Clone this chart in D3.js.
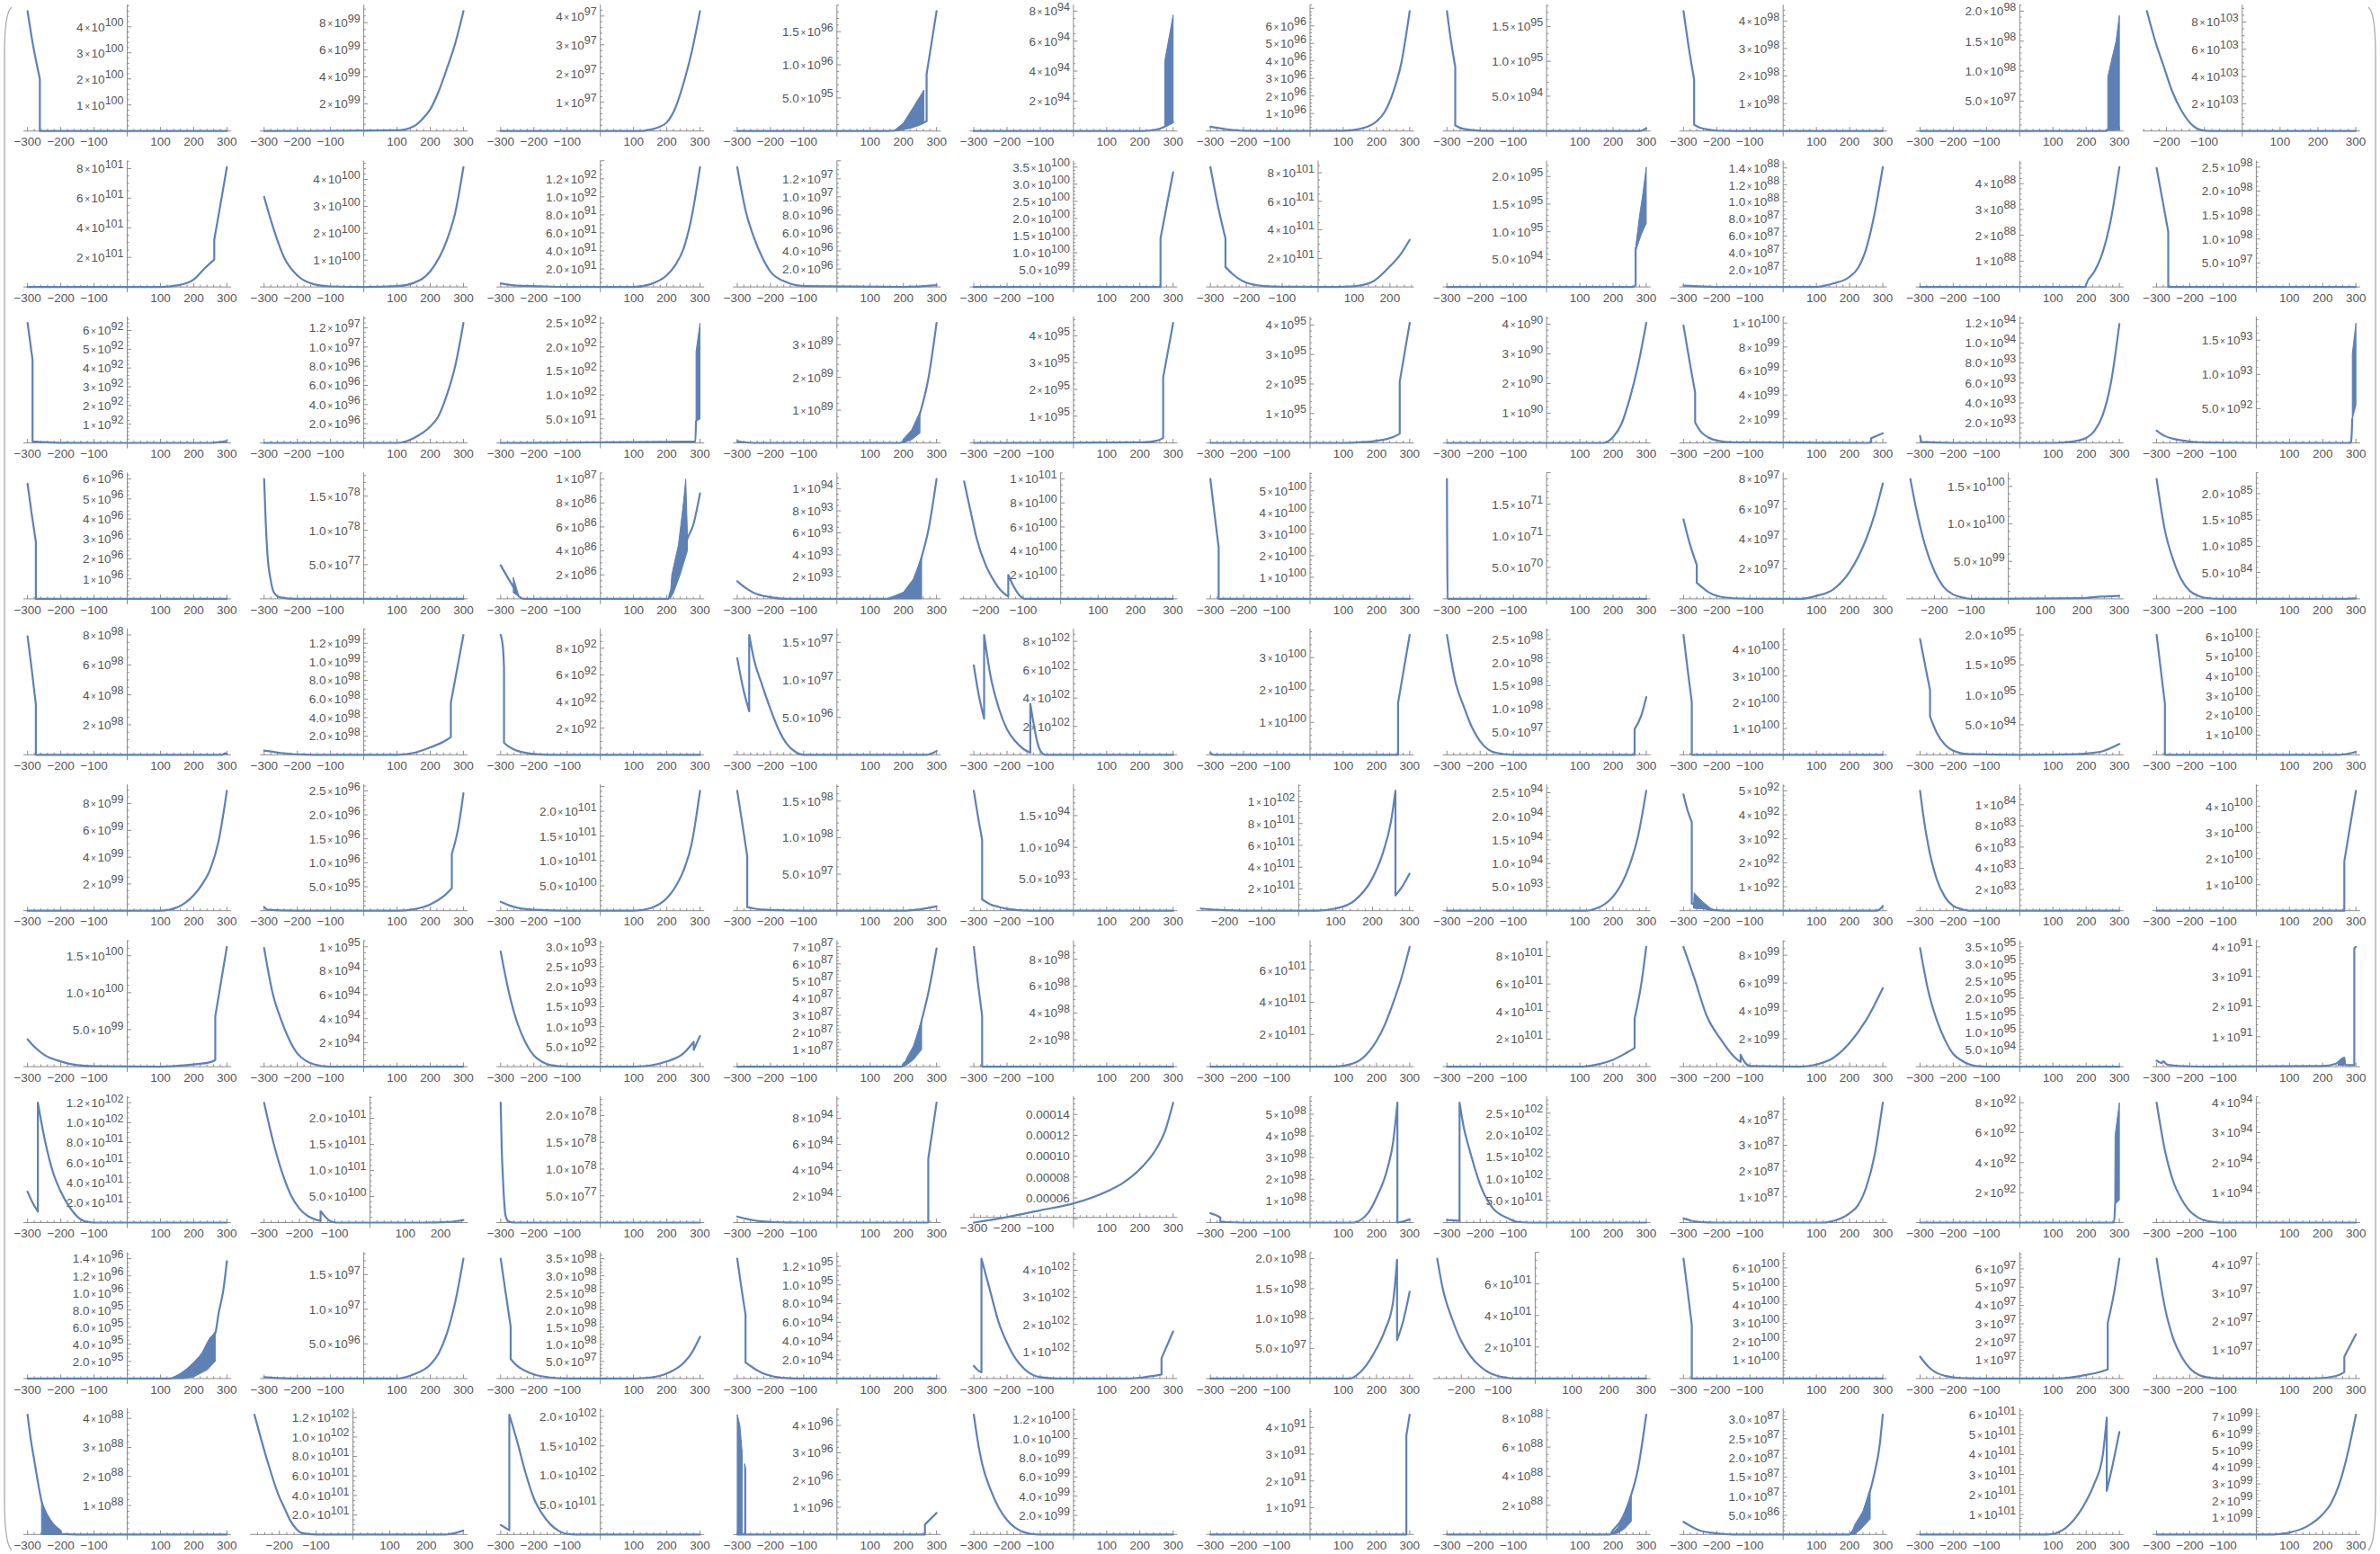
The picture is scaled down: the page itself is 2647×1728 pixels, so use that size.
<!DOCTYPE html>
<html><head><meta charset="utf-8">
<script src="https://cdn.jsdelivr.net/npm/d3@7"></script>
<style>
body{margin:0;background:#fff}
svg{display:block}
text{font-family:"Liberation Sans",Arial,sans-serif;fill:#555}
</style>
</head><body>
<svg id="chart" width="2647" height="1728"></svg>
<script>
// ---- data (row-major, 10 x 10 panels) ----
const yExponents = [
 100, 99, 97, 96, 94, 96, 95, 98, 98, 103,
 101, 100, 92, 97, 100, 101, 95, 88, 88, 98,
 92, 97, 92, 89, 95, 95, 90, 100, 94, 93,
 96, 78, 87, 94, 101, 100, 71, 97, 100, 85,
 98, 99, 92, 97, 102, 100, 98, 100, 95, 100,
 99, 96, 101, 98, 94, 102, 94, 92, 84, 100,
 100, 95, 93, 87, 98, 101, 101, 99, 95, 91,
 102, 101, 78, 94, null, 98, 102, 87, 92, 94,
 96, 97, 98, 95, 102, 98, 101, 100, 97, 97,
 88, 102, 102, 96, 100, 91, 88, 87, 101, 99
];

const yTickValues = [
 [1,2,3,4],[2,4,6,8],[1,2,3,4],[0.5,1,1.5],[2,4,6,8],[1,2,3,4,5,6],[0.5,1,1.5],[1,2,3,4],[0.5,1,1.5,2],[2,4,6,8],
 [2,4,6,8],[1,2,3,4],[0.2,0.4,0.6,0.8,1,1.2],[0.2,0.4,0.6,0.8,1,1.2],[0.5,1,1.5,2,2.5,3,3.5],[2,4,6,8],[0.5,1,1.5,2],[0.2,0.4,0.6,0.8,1,1.2,1.4],[1,2,3,4],[0.5,1,1.5,2,2.5],
 [1,2,3,4,5,6],[0.2,0.4,0.6,0.8,1,1.2],[0.5,1,1.5,2,2.5],[1,2,3],[1,2,3,4],[1,2,3,4],[1,2,3,4],[0.2,0.4,0.6,0.8,1],[0.2,0.4,0.6,0.8,1,1.2],[0.5,1,1.5],
 [1,2,3,4,5,6],[0.5,1,1.5],[0.2,0.4,0.6,0.8,1],[0.2,0.4,0.6,0.8,1],[0.2,0.4,0.6,0.8,1],[1,2,3,4,5],[0.5,1,1.5],[2,4,6,8],[0.5,1,1.5],[0.5,1,1.5,2],
 [2,4,6,8],[0.2,0.4,0.6,0.8,1,1.2],[2,4,6,8],[0.5,1,1.5],[2,4,6,8],[1,2,3],[0.5,1,1.5,2,2.5],[1,2,3,4],[0.5,1,1.5,2],[1,2,3,4,5,6],
 [2,4,6,8],[0.5,1,1.5,2,2.5],[0.5,1,1.5,2],[0.5,1,1.5],[0.5,1,1.5],[0.2,0.4,0.6,0.8,1],[0.5,1,1.5,2,2.5],[1,2,3,4,5],[0.2,0.4,0.6,0.8,1],[1,2,3,4],
 [0.5,1,1.5],[0.2,0.4,0.6,0.8,1],[0.5,1,1.5,2,2.5,3],[1,2,3,4,5,6,7],[2,4,6,8],[2,4,6],[2,4,6,8],[2,4,6,8],[0.5,1,1.5,2,2.5,3,3.5],[1,2,3,4],
 [0.2,0.4,0.6,0.8,1,1.2],[0.5,1,1.5,2],[0.5,1,1.5,2],[2,4,6,8],[0.00006,0.00008,0.0001,0.00012,0.00014],[1,2,3,4,5],[0.5,1,1.5,2,2.5],[1,2,3,4],[2,4,6,8],[1,2,3,4],
 [0.2,0.4,0.6,0.8,1,1.2,1.4],[0.5,1,1.5],[0.5,1,1.5,2,2.5,3,3.5],[0.2,0.4,0.6,0.8,1,1.2],[1,2,3,4],[0.5,1,1.5,2],[2,4,6],[1,2,3,4,5,6],[1,2,3,4,5,6],[1,2,3,4],
 [1,2,3,4],[0.2,0.4,0.6,0.8,1,1.2],[0.5,1,1.5,2],[1,2,3,4],[0.2,0.4,0.6,0.8,1,1.2],[1,2,3,4],[2,4,6,8],[0.5,1,1.5,2,2.5,3],[1,2,3,4,5,6],[1,2,3,4,5,6,7]
];

const curves = [
 // row 1
 [[-300,4.6],[-285,3.4],[-263,2.0],[-263,0],[300,0]],
 [[-300,0],[100,0.05],[150,0.35],[175,0.85],[200,1.6],[225,2.9],[250,4.6],[275,6.45],[300,8.85]],
 [[-300,0],[120,0],[150,0.05],[175,0.13],[200,0.3],[225,0.78],[250,1.65],[275,2.75],[300,4.17]],
 [[-300,0],[150,0],[200,0.03],[240,0.08],[270,0.15],[270,0.86],[300,1.81]],
 [[-300,0],[200,0],[250,0.1],[275,0.3],[300,0.6]],
 [[-300,0.25],[-250,0.1],[-200,0.02],[-100,0],[100,0.02],[150,0.12],[200,0.55],[225,1.1],[250,2.2],[275,3.9],[300,6.84]],
 [[-300,1.72],[-288,1.3],[-275,0.92],[-275,0.08],[-250,0.03],[-200,0.005],[-100,0],[280,0],[300,0.04]],
 [[-300,4.36],[-285,3.1],[-268,1.87],[-268,0.23],[-250,0.12],[-225,0.05],[-200,0.015],[-150,0],[300,0]],
 [[-300,0],[260,0],[265,0.02],[300,0.03]],
 [[-252,8.8],[-230,6.6],[-207,4.7],[-185,2.9],[-161,1.52],[-128,0.33],[-107,0.05],[-85,0],[300,0]],
 // row 2
 [[-300,0],[100,0],[150,0.1],[200,0.5],[235,1.3],[262,1.85],[262,3.2],[280,5.5],[300,8.1]],
 [[-300,3.35],[-275,2.3],[-240,1.1],[-200,0.43],[-150,0.1],[-100,0.02],[0,0],[100,0.03],[150,0.15],[200,0.58],[250,1.74],[275,2.75],[300,4.46]],
 [[-300,0.04],[-250,0.015],[-200,0.01],[-100,0],[100,0],[150,0.03],[200,0.13],[225,0.24],[250,0.42],[275,0.78],[300,1.33]],
 [[-300,1.33],[-275,0.85],[-250,0.55],[-225,0.33],[-200,0.17],[-150,0.05],[-100,0.01],[200,0],[300,0.02]],
 [[-300,0],[262,0],[262,1.42],[300,3.35]],
 [[-300,8.4],[-280,5.8],[-258,3.4],[-258,1.4],[-240,0.95],[-225,0.65],[-200,0.3],[-150,0.06],[-100,0.01],[50,0],[100,0.05],[150,0.35],[200,1.45],[230,2.3],[255,3.3]],
 [[-300,0],[260,0],[268,0.03],[268,0.7]],
 [[-300,0.015],[-200,0],[100,0],[150,0.04],[200,0.12],[225,0.22],[250,0.45],[275,0.86],[300,1.41]],
 [[-300,0],[198,0],[200,0.1],[225,0.6],[250,1.35],[275,2.65],[300,4.64]],
 [[-300,2.48],[-282,1.8],[-265,1.15],[-265,0],[300,0]],
 // row 3
 [[-300,6.4],[-285,4.45],[-285,0.08],[-250,0.04],[-200,0.01],[-100,0],[250,0],[300,0.1]],
 [[-300,0],[100,0],[150,0.05],[200,0.17],[225,0.28],[250,0.5],[275,0.8],[300,1.25]],
 [[-300,0],[286,0.03],[288,0.45]],
 [[-300,0.05],[-280,0.02],[-250,0],[190,0],[200,0.05],[225,0.2],[250,0.9],[275,1.95],[300,3.66]],
 [[-300,0],[200,0.02],[250,0.08],[270,0.18],[270,2.45],[300,4.48]],
 [[-300,0],[100,0],[150,0.02],[200,0.07],[250,0.2],[270,0.31],[270,2.08],[300,4.07]],
 [[-300,0],[170,0],[200,0.2],[225,0.63],[250,1.48],[275,2.6],[300,4.04]],
 [[-300,0.98],[-283,0.7],[-265,0.42],[-265,0.17],[-250,0.1],[-225,0.045],[-200,0.02],[-150,0.005],[260,0],[265,0.01],[265,0.04],[300,0.08]],
 [[-300,0.07],[-295,0.01],[-200,0],[100,0],[150,0.01],[200,0.05],[225,0.12],[250,0.28],[275,0.61],[300,1.19]],
 [[-300,0.18],[-275,0.1],[-250,0.06],[-200,0.02],[-150,0.005],[0,0],[285,0],[289,0.35]],
 // row 4
 [[-300,5.76],[-288,4.3],[-275,2.85],[-275,0],[300,0]],
 [[-300,1.75],[-295,1.1],[-290,0.65],[-280,0.27],[-270,0.09],[-250,0.02],[-200,0],[300,0]],
 [[-300,0.28],[-275,0.16],[-262,0.1],[-245,0.02],[-230,0],[205,0],[210,0.05],[240,0.25],[262,0.5],[280,0.62],[300,0.88]],
 [[-300,0.16],[-275,0.1],[-250,0.055],[-200,0.015],[-150,0],[150,0],[200,0.05],[225,0.13],[255,0.38],[275,0.62],[300,1.09]],
 [[-258,0.98],[-240,0.72],[-225,0.51],[-200,0.28],[-180,0.16],[-160,0.07],[-140,0.02],[-140,0.2],[-125,0.1],[-110,0.03],[-95,0],[300,0]],
 [[-300,5.55],[-288,4.0],[-275,2.37],[-275,0],[300,0]],
 [[-300,1.9],[-298,0],[300,0]],
 [[-300,5.3],[-280,3.6],[-260,2.27],[-260,1.07],[-240,0.7],[-225,0.45],[-200,0.2],[-150,0.04],[-100,0.01],[50,0],[100,0.2],[150,0.62],[200,1.8],[250,4.0],[275,5.6],[300,7.7]],
 [[-265,1.6],[-250,1.22],[-225,0.71],[-200,0.37],[-175,0.16],[-150,0.06],[-125,0.02],[-100,0],[200,0.01],[250,0.03],[300,0.04]],
 [[-300,2.28],[-275,1.3],[-250,0.74],[-225,0.36],[-200,0.15],[-175,0.06],[-150,0.015],[-100,0],[250,0],[300,0.01]],
 // row 5
 [[-300,7.9],[-288,5.8],[-275,3.35],[-275,0],[285,0],[295,0.1],[300,0.05]],
 [[-300,0.045],[-250,0.02],[-200,0.005],[-100,0],[100,0],[150,0.02],[200,0.08],[240,0.14],[262,0.19],[262,0.56],[300,1.29]],
 [[-300,9.0],[-293,8.0],[-290,6.6],[-290,0.9],[-275,0.6],[-250,0.3],[-225,0.15],[-200,0.06],[-150,0],[300,0]],
 [[-300,1.29],[-283,0.9],[-264,0.58],[-264,1.6],[-250,1.28],[-225,0.93],[-200,0.61],[-175,0.33],[-150,0.14],[-125,0.04],[-100,0],[270,0],[300,0.05]],
 [[-300,6.3],[-285,4.2],[-269,2.55],[-269,8.45],[-250,5.6],[-225,3.3],[-200,1.8],[-175,0.95],[-150,0.4],[-130,0.15],[-130,3.6],[-120,2.2],[-110,1.0],[-100,0.3],[-85,0],[300,0]],
 [[-300,0.06],[-290,0],[265,0],[265,1.6],[300,3.7]],
 [[-300,2.6],[-275,1.6],[-250,1.06],[-225,0.6],[-200,0.29],[-175,0.11],[-150,0.04],[-100,0],[265,0],[265,0.56],[285,0.85],[300,1.25]],
 [[-300,4.57],[-288,3.3],[-275,2.0],[-275,0],[300,0]],
 [[-300,1.93],[-285,1.5],[-270,1.08],[-270,0.64],[-250,0.37],[-225,0.17],[-200,0.07],[-150,0.01],[0,0],[150,0.005],[200,0.02],[250,0.06],[300,0.18]],
 [[-300,6.1],[-288,4.4],[-275,2.6],[-275,0],[250,0],[300,0.15]],
 // row 6
 [[-300,0],[100,0],[150,0.25],[200,1.15],[225,1.95],[250,3.1],[275,5.2],[300,8.95]],
 [[-300,0.08],[-290,0.02],[-200,0],[100,0],[150,0.03],[200,0.13],[240,0.3],[265,0.47],[265,1.18],[285,1.75],[300,2.45]],
 [[-300,0.18],[-275,0.11],[-250,0.06],[-200,0.02],[-100,0],[100,0],[150,0.05],[200,0.25],[225,0.47],[250,0.8],[275,1.35],[300,2.41]],
 [[-300,1.64],[-285,1.2],[-270,0.75],[-270,0.05],[-250,0.03],[-200,0.01],[-100,0],[200,0],[250,0.02],[300,0.06]],
 [[-300,1.89],[-288,1.5],[-275,1.12],[-275,0.18],[-250,0.1],[-225,0.06],[-200,0.03],[-150,0.005],[-100,0],[300,0]],
 [[-265,0.02],[-200,0.005],[-100,0],[50,0],[100,0.02],[150,0.09],[200,0.3],[225,0.5],[250,0.82],[262,1.1],[262,0.14],[280,0.22],[300,0.34]],
 [[-300,0],[120,0],[150,0.05],[175,0.14],[200,0.3],[225,0.56],[250,0.97],[275,1.57],[300,2.54]],
 [[-300,4.85],[-288,4.2],[-275,3.7],[-275,0.3],[-250,0.15],[-225,0.06],[-200,0.02],[-150,0],[280,0],[290,0.05],[300,0.2]],
 [[-300,1.13],[-288,0.85],[-275,0.61],[-250,0.3],[-225,0.13],[-200,0.045],[-175,0.015],[-150,0],[300,0]],
 [[-300,0],[265,0],[265,1.9],[300,4.6]],
 // row 7
 [[-300,0.37],[-275,0.25],[-250,0.16],[-200,0.07],[-150,0.02],[-100,0.005],[100,0],[200,0.03],[250,0.06],[265,0.09],[265,0.68],[300,1.62]],
 [[-300,0.99],[-288,0.8],[-275,0.62],[-250,0.4],[-225,0.23],[-200,0.11],[-175,0.05],[-150,0.02],[-100,0],[300,0]],
 [[-300,2.88],[-275,1.85],[-250,1.1],[-225,0.6],[-200,0.28],[-175,0.12],[-150,0.04],[-100,0],[100,0],[150,0.03],[200,0.13],[250,0.33],[281,0.62],[281,0.42],[300,0.77]],
 [[-300,0],[195,0],[200,0.15],[225,0.6],[255,2.7],[275,4.3],[300,6.9]],
 [[-300,8.93],[-288,6.3],[-275,3.8],[-275,0],[300,0]],
 [[-300,0],[75,0],[100,0.05],[150,0.4],[200,1.6],[225,2.6],[250,3.95],[275,5.5],[300,7.45]],
 [[-300,0],[100,0],[150,0.15],[200,0.5],[240,1.0],[265,1.35],[265,3.5],[285,6.0],[300,8.7]],
 [[-300,8.6],[-266,6.25],[-231,3.7],[-186,1.9],[-151,0.8],[-135,0.45],[-128,0.35],[-128,0.85],[-115,0.3],[-100,0.05],[50,0],[100,0.15],[150,0.62],[200,1.7],[250,3.35],[300,5.64]],
 [[-300,3.46],[-275,2.2],[-250,1.37],[-225,0.78],[-200,0.37],[-175,0.18],[-150,0.06],[-125,0.01],[-100,0],[300,0]],
 [[-300,0.2],[-285,0.12],[-280,0.18],[-270,0.08],[-250,0.04],[-200,0.01],[-150,0],[200,0.02],[240,0.1],[265,0.3],[268,0.05],[295,0.05],[295,3.95],[300,4.0]],
 // row 8
 [[-300,0.31],[-285,0.2],[-269,0.11],[-269,1.2],[-250,0.86],[-225,0.52],[-200,0.31],[-175,0.16],[-150,0.06],[-125,0.01],[-100,0],[300,0]],
 [[-300,2.3],[-275,1.57],[-250,0.98],[-225,0.54],[-200,0.27],[-175,0.12],[-150,0.05],[-140,0.03],[-140,0.22],[-125,0.1],[-110,0.02],[-95,0],[150,0],[220,0.01],[265,0.05]],
 [[-300,2.24],[-297,1.4],[-293,0.8],[-289,0.35],[-285,0.12],[-278,0.03],[-260,0],[300,0]],
 [[-300,0.47],[-275,0.3],[-250,0.17],[-200,0.05],[-150,0.01],[-100,0],[270,0],[275,0.02],[275,4.9],[300,9.2]],
 [[-300,0.0000363],[-200,0.0000416],[-100,0.0000481],[0,0.0000547],[100,0.0000661],[150,0.0000745],[200,0.0000875],[250,0.0001074],[275,0.0001235],[300,0.0001512]],
 [[-300,0.43],[-285,0.35],[-270,0.24],[-270,0.05],[-250,0.02],[-200,0],[130,0],[150,0.1],[175,0.45],[200,1.15],[235,2.6],[250,3.7],[263,5.53],[263,0],[280,0.05],[300,0.15]],
 [[-300,0.06],[-275,0.05],[-262,0.04],[-262,2.74],[-250,2.2],[-231,1.64],[-197,0.81],[-162,0.33],[-116,0.1],[-90,0.02],[-50,0],[300,0]],
 [[-300,0.16],[-275,0.07],[-250,0.02],[-200,0],[120,0],[150,0.06],[200,0.36],[225,0.67],[250,1.37],[275,2.6],[300,4.65]],
 [[-300,0],[284,0],[287,1.2]],
 [[-300,4.0],[-275,2.41],[-250,1.38],[-225,0.78],[-200,0.38],[-175,0.17],[-150,0.06],[-125,0.015],[-100,0],[300,0]],
 // row 9
 [[-300,0],[130,0],[150,0.03],[200,0.18],[225,0.29],[250,0.47],[265,0.53],[275,0.76],[290,1.05],[300,1.37]],
 [[-300,0.02],[-200,0],[100,0],[150,0.06],[200,0.2],[225,0.36],[250,0.65],[275,1.1],[300,1.73]],
 [[-300,3.5],[-285,2.5],[-270,1.52],[-270,0.57],[-250,0.37],[-225,0.22],[-200,0.12],[-150,0.03],[-100,0],[100,0],[150,0.03],[200,0.15],[250,0.45],[275,0.75],[300,1.22]],
 [[-300,1.28],[-288,0.98],[-275,0.68],[-275,0.17],[-250,0.11],[-225,0.06],[-200,0.03],[-150,0.005],[-100,0],[300,0]],
 [[-300,0.47],[-290,0.33],[-277,0.23],[-277,4.43],[-250,3.2],[-225,2.07],[-200,1.32],[-175,0.75],[-150,0.38],[-125,0.15],[-100,0.05],[-50,0],[150,0],[200,0.03],[265,0.15],[265,0.75],[300,1.74]],
 [[-300,0],[120,0],[150,0.1],[200,0.5],[225,0.8],[250,1.28],[262,1.98],[262,0.64],[280,0.95],[300,1.45]],
 [[-265,7.6],[-250,5.7],[-225,3.8],[-200,2.37],[-175,1.42],[-150,0.79],[-125,0.38],[-100,0.15],[-75,0.05],[-50,0],[300,0]],
 [[-300,6.5],[-288,4.8],[-275,2.9],[-275,0],[300,0]],
 [[-300,1.2],[-275,0.65],[-250,0.31],[-225,0.15],[-200,0.07],[-150,0.01],[-100,0],[100,0],[150,0.05],[200,0.2],[240,0.35],[265,0.5],[265,3.04],[285,4.8],[300,6.56]],
 [[-300,4.2],[-275,2.49],[-250,1.4],[-225,0.77],[-200,0.36],[-175,0.14],[-150,0.05],[-100,0],[150,0],[200,0.02],[250,0.13],[265,0.23],[265,0.77],[300,1.55]],
 // row 10
 [[-300,4.13],[-290,3.25],[-279,2.5],[-268,1.75],[-258,1.15],[-240,0.65],[-225,0.38],[-200,0.12],[-200,0.02],[-150,0],[300,0]],
 [[-268,1.23],[-250,0.98],[-230,0.72],[-204,0.42],[-185,0.26],[-170,0.14],[-155,0.06],[-139,0.015],[-100,0],[250,0],[300,0.04]],
 [[-300,0.16],[-285,0.11],[-274,0.07],[-274,2.03],[-250,1.57],[-225,1.04],[-200,0.61],[-175,0.35],[-150,0.17],[-125,0.06],[-100,0.01],[-75,0],[300,0]],
 [[-300,0],[265,0],[265,0.37],[300,0.79]],
 [[-300,1.25],[-288,0.97],[-275,0.74],[-250,0.47],[-225,0.28],[-200,0.15],[-175,0.07],[-150,0.025],[-125,0.005],[-100,0],[300,0]],
 [[-300,0],[290,0],[290,3.7],[300,4.48]],
 [[-300,0],[190,0],[200,0.3],[225,1.0],[250,2.4],[275,4.5],[300,8.23]],
 [[-300,0.33],[-275,0.2],[-250,0.1],[-200,0.03],[-150,0],[200,0],[210,0.1],[225,0.27],[250,0.8],[275,1.6],[290,2.3],[300,3.13]],
 [[-300,0],[80,0],[100,0.03],[150,0.5],[200,1.67],[225,2.56],[250,3.97],[262,5.85],[262,2.18],[280,3.5],[300,5.13]],
 [[-300,0],[50,0],[100,0.12],[150,0.45],[200,1.2],[225,1.85],[250,3.0],[275,4.8],[300,7.12]]
];

// densely oscillating stretches, drawn as filled shapes: [panel, outline]
const fills = [
 [3, [[170,0],[200,0.12],[230,0.36],[262,0.62],[262,0.12],[230,0.06],[200,0.02]]],
 [4, [[275,0.3],[275,4.7],[300,7.75],[300,0.6]]],
 [8, [[265,0.02],[265,0.9],[275,1.15],[290,1.5],[300,1.93],[300,0.03]]],
 [16, [[268,0.65],[268,0.72],[280,1.3],[290,1.7],[300,2.17],[300,1.15],[285,0.95]]],
 [22, [[288,0.45],[288,1.9],[300,2.5],[300,0.5]]],
 [23, [[195,0],[200,0.12],[225,0.4],[250,0.95],[250,0.3],[225,0.1],[200,0.01]]],
 [29, [[289,0.35],[289,1.3],[300,1.75],[300,0.55]]],
 [32, [[-262,0.05],[-262,0.18],[-245,0.02]]],
 [32, [[210,0],[215,0.2],[235,0.45],[250,0.8],[257,1.0],[262,0.55],[262,0.4],[240,0.2],[220,0.05]]],
 [33, [[150,0],[200,0.06],[230,0.18],[255,0.38],[255,0]]],
 [57, [[-270,0.1],[-268,0.75],[-255,0.55],[-240,0.35],[-220,0.12],[-205,0.02],[-240,0.08]]],
 [63, [[200,0],[210,0.5],[230,1.2],[255,2.7],[255,1.0],[230,0.4],[210,0.1]]],
 [69, [[245,0.05],[250,0.15],[265,0.3],[265,0.05]]],
 [78, [[286,1.2],[287,5.8],[300,8.0],[300,1.5]]],
 [80, [[140,0],[175,0.08],[200,0.18],[225,0.29],[250,0.47],[265,0.55],[265,0.2],[240,0.1],[200,0.02],[170,0]]],
 [90, [[-258,0],[-258,1.1],[-240,0.65],[-225,0.38],[-210,0.2],[-200,0.12],[-200,0]]],
 [93, [[-300,0],[-300,4.4],[-292,4.0],[-285,3.0],[-285,0]]],
 [93, [[-278,0],[-278,2.6],[-274,2.4],[-274,0]]],
 [96, [[195,0],[215,0.5],[235,1.3],[255,2.6],[255,0.9],[235,0.4],[215,0.1]]],
 [97, [[205,0],[215,0.25],[240,0.6],[262,1.2],[262,0.4],[235,0.15],[215,0]]]
];

// panels whose x range is not -300..300: [panel, xmin, xmax]
const xDomainOverrides = [[9,-252,300],[15,-300,255],[34,-258,300],[38,-265,300],[55,-265,300],[71,-300,265],[86,-265,300],[91,-268,300]];
// panels whose horizontal axis does not sit at y = 0: [panel, y]
const axisOriginOverrides = [[74, 0.0000413]];

// ---- drawing ----
const CURVE = "#5E81B5", AXIS = "#8a8a8a";
const CELL_W = 263.1, ROW_H = 173.4, AXIS0 = 145.7, PLOT_H = 133.3;
const FS = 13.5;
const svg = d3.select("#chart");

// matrix brackets
svg.append("path").attr("d","M13,8 Q5,14 5,60 L5,1668 Q5,1716 13,1724").attr("fill","none").attr("stroke","#aaa").attr("stroke-width",1.3);
svg.append("path").attr("d","M2634,8 Q2642,14 2642,60 L2642,1668 Q2642,1716 2634,1724").attr("fill","none").attr("stroke","#aaa").attr("stroke-width",1.3);

function curvePath(pts, xs, ys) {
  const runs = []; let cur = [pts[0]];
  for (let k = 1; k < pts.length; k++) {
    if (pts[k][0] > cur[cur.length-1][0]) cur.push(pts[k]);
    else { runs.push(cur); cur = [pts[k]]; }
  }
  runs.push(cur);
  const line = d3.line().x(d => xs(d[0])).y(d => ys(d[1])).curve(d3.curveMonotoneX);
  return runs.map((r, k) => {
    const s = r.length > 1 ? line(r) : `M${xs(r[0][0])},${ys(r[0][1])}`;
    return k === 0 ? s : "L" + s.slice(1);
  }).join("");
}

for (let i = 0; i < 100; i++) {
  const r = Math.floor(i / 10), c = i % 10;
  const cellLeft = c * CELL_W;
  const axisY = AXIS0 + r * ROW_H;
  const ov = xDomainOverrides.find(d => d[0] === i);
  const x0 = ov ? ov[1] : -300, x1 = ov ? ov[2] : 300;
  const pad = 0.021 * (x1 - x0);
  const left = cellLeft + (x0 % 100 === 0 ? 26 : 15), right = cellLeft + 257;
  const xs = d3.scaleLinear().domain([x0 - pad, x1 + pad]).range([left, right]);

  const pts = curves[i];
  const ticks = yTickValues[i];
  const fl = fills.filter(f => f[0] === i).map(f => f[1]);
  const allY = pts.map(p => p[1]).concat(...fl.map(f => f.map(p => p[1])));
  const oo = axisOriginOverrides.find(d => d[0] === i);
  const origin = oo ? oo[1] : 0;
  const yLo = Math.min(origin, d3.min(allY));
  const yHi = Math.max(d3.max(allY), ticks[ticks.length - 1]);
  const ys = d3.scaleLinear().domain([yLo, yHi]).range([axisY, axisY - PLOT_H]);

  const g = svg.append("g");
  const ay = ys(origin);           // horizontal axis position
  const ax = xs(0);                // vertical axis position
  const yTop = axisY - 140.5;

  // horizontal axis
  g.append("line").attr("x1", left).attr("x2", right).attr("y1", ay).attr("y2", ay)
    .attr("stroke", AXIS).attr("stroke-width", 1);
  for (let v = Math.ceil((x0 - pad) / 20) * 20; v <= x1 + pad; v += 20) {
    const major = v % 100 === 0;
    if (v === 0) continue;
    g.append("line").attr("x1", xs(v)).attr("x2", xs(v)).attr("y1", ay).attr("y2", ay - (major ? 4.5 : 2.5))
      .attr("stroke", AXIS).attr("stroke-width", 1);
    if (major && v >= x0 - 1 && v <= x1 + 1) {
      g.append("text").attr("x", xs(v)).attr("y", ay + 16.7).attr("text-anchor", "middle")
        .attr("font-size", FS).text(v < 0 ? "\u2212" + (-v) : String(v));
    }
  }

  // vertical axis
  g.append("line").attr("x1", ax).attr("x2", ax).attr("y1", ys(yLo) + 6).attr("y2", yTop)
    .attr("stroke", AXIS).attr("stroke-width", 1);
  const step = ticks[1] - ticks[0];
  const lead = Math.round(step / Math.pow(10, Math.floor(Math.log10(step) + 1e-9)));
  const minor = lead === 2 ? step / 4 : step / 5;
  const topVal = ys.invert(yTop);
  for (let k = Math.ceil(yLo / minor - 1e-9); k * minor <= topVal; k++) {
    const v = k * minor;
    const isMajor = Math.abs(v / step - Math.round(v / step)) < 1e-6;
    g.append("line").attr("x1", ax).attr("x2", ax + (isMajor ? 4.5 : 2.2)).attr("y1", ys(v)).attr("y2", ys(v))
      .attr("stroke", AXIS).attr("stroke-width", 1);
  }

  const E = yExponents[i];
  let dec = 0;
  if (E !== null) {
    ticks.forEach(t => { const m = t >= 1 ? t : t * 10; if (Math.abs(m - Math.round(m)) > 1e-6) dec = 1; });
  }
  ticks.forEach(t => {
    const yp = ys(t);
    const txt = g.append("text").attr("x", ax - 4).attr("y", yp).attr("dy", "0.36em")
      .attr("text-anchor", "end").attr("font-size", FS);
    if (E === null) { txt.text(t.toFixed(5)); return; }
    const m = t >= 1 ? t : t * 10;
    const e = t >= 1 ? E : E - 1;
    txt.append("tspan").text(m.toFixed(dec));
    txt.append("tspan").attr("font-size", 10).attr("dx", 1.6).text("\u00d7");
    txt.append("tspan").attr("dx", 1.6).text("10");
    txt.append("tspan").attr("font-size", 12.5).attr("dy", -5.3).text(String(e));
  });

  // filled oscillating stretches
  fl.forEach(f => {
    g.append("path").attr("d", d3.line().x(d => xs(d[0])).y(d => ys(d[1]))(f) + "Z")
      .attr("fill", CURVE).attr("stroke", CURVE).attr("stroke-width", 1).attr("stroke-linejoin", "round");
  });

  // curve
  g.append("path").attr("d", curvePath(pts, xs, ys)).attr("fill", "none")
    .attr("stroke", CURVE).attr("stroke-width", 2.2).attr("stroke-linejoin", "round").attr("stroke-linecap", "round");
}
</script>
</body></html>
